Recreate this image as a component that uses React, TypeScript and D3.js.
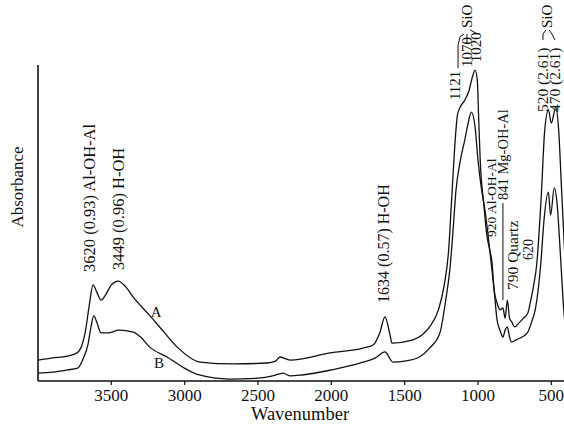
import * as d3 from 'd3';

// FTIR spectra, wavenumber (cm-1) vs absorbance (arbitrary units)
const wnA = [4000, 3900, 3800, 3734, 3700, 3679, 3650, 3625, 3600, 3570, 3540, 3500, 3454, 3400, 3352, 3236, 3147, 3052, 2895, 2670, 2438, 2380, 2350, 2310, 2281, 2009, 1784, 1715, 1670, 1634, 1600, 1586, 1443, 1380, 1330, 1270, 1230, 1200, 1180, 1160, 1140, 1121, 1090, 1060, 1040, 1020, 1005, 995, 985, 960, 940, 920, 905, 890, 870, 850, 830, 815, 800, 785, 770, 750, 720, 690, 660, 640, 620, 600, 570, 545, 520, 500, 470, 450, 430, 400];
const absA = [0.066, 0.073, 0.079, 0.089, 0.114, 0.152, 0.241, 0.304, 0.282, 0.256, 0.272, 0.304, 0.316, 0.297, 0.266, 0.206, 0.158, 0.108, 0.060, 0.054, 0.057, 0.063, 0.076, 0.070, 0.066, 0.089, 0.104, 0.114, 0.152, 0.203, 0.146, 0.120, 0.130, 0.146, 0.171, 0.225, 0.304, 0.415, 0.573, 0.731, 0.842, 0.867, 0.889, 0.921, 0.959, 0.984, 0.953, 0.826, 0.699, 0.557, 0.462, 0.415, 0.377, 0.288, 0.247, 0.225, 0.231, 0.199, 0.256, 0.199, 0.187, 0.171, 0.184, 0.199, 0.215, 0.256, 0.304, 0.367, 0.573, 0.794, 0.858, 0.816, 0.867, 0.794, 0.604, 0.320];

const wnB = [4000, 3900, 3800, 3730, 3690, 3660, 3640, 3620, 3600, 3570, 3520, 3450, 3350, 3300, 3240, 3120, 2980, 2900, 2700, 2500, 2400, 2330, 2280, 2200, 2000, 1800, 1700, 1634, 1580, 1500, 1400, 1330, 1260, 1220, 1190, 1170, 1150, 1120, 1090, 1070, 1045, 1020, 1000, 980, 950, 920, 890, 870, 850, 830, 815, 800, 785, 770, 740, 700, 660, 630, 610, 590, 570, 550, 520, 505, 480, 460, 440, 420, 400];
const absB = [0.025, 0.028, 0.035, 0.041, 0.073, 0.114, 0.168, 0.206, 0.187, 0.152, 0.152, 0.161, 0.155, 0.139, 0.108, 0.076, 0.035, 0.019, 0.006, 0.009, 0.016, 0.025, 0.016, 0.019, 0.035, 0.057, 0.073, 0.092, 0.060, 0.063, 0.076, 0.104, 0.152, 0.256, 0.361, 0.478, 0.604, 0.699, 0.763, 0.810, 0.851, 0.804, 0.699, 0.620, 0.532, 0.415, 0.288, 0.193, 0.161, 0.139, 0.161, 0.171, 0.139, 0.123, 0.130, 0.139, 0.155, 0.193, 0.225, 0.288, 0.383, 0.509, 0.598, 0.525, 0.611, 0.557, 0.415, 0.256, 0.146];

const xTicks = [3500, 3000, 2500, 2000, 1500, 1000, 500];

// band assignments: text, wavenumber of the label, absorbance at the label's foot
const noteText = ['3620 (0.93) Al-OH-Al', '3449 (0.96) H-OH', '1634 (0.57) H-OH', '1121', '1070', '1020', 'SiO', '920 Al-OH-Al', '841 Mg-OH-Al', '790 Quartz', '620', '520 (2.61)', '470 (2.61)', 'SiO'];
const noteWn = [3652, 3455, 1648, 1157, 1075, 1014, 1075, 911, 830, 761, 659, 557, 475, 530];
const noteAbs = [0.345, 0.351, 0.247, 0.889, 0.994, 1.009, 1.117, 0.456, 0.573, 0.288, 0.383, 0.851, 0.851, 1.117];
const noteSize = [16.5, 16.5, 16, 15, 15, 15, 15, 13.5, 14.5, 15.5, 14, 15.5, 15.5, 15];

// leader lines [wavenumber, absorbance]
const leaders = [
  [[830, 0.563], [830, 0.256]],
  [[1136, 0.99], [1136, 1.063], [1122, 1.09], [1095, 1.098]],
  [[1075, 1.066], [1075, 1.098]],
  [[1014, 1.101], [1054, 1.111]],
  [[557, 1.079], [557, 1.098], [536, 1.111]],
  [[475, 1.079], [496, 1.098], [516, 1.111]],
];

const seriesLabels = ['A', 'B'];
const seriesLabelWn = [3195, 3175];
const seriesLabelAbs = [0.218, 0.057];

export default function App() {
  const width = 564;
  const height = 426;
  const x = d3.scaleLinear().domain([4000, 400]).range([38, 566]);
  const y = d3.scaleLinear().domain([0, 1]).range([381, 65]);

  const line = d3.line<[number, number]>()
    .x(d => x(d[0]))
    .y(d => y(d[1]))
    .curve(d3.curveMonotoneX);
  const straight = d3.line<number[]>().x(d => x(d[0])).y(d => y(d[1]));

  const ptsA = wnA.map((w, i) => [w, absA[i]] as [number, number]);
  const ptsB = wnB.map((w, i) => [w, absB[i]] as [number, number]);

  const font = '"Liberation Serif", "DejaVu Serif", serif';

  return (
    <svg width={width} height={height} style={{ position: 'absolute', left: 0, top: 0, background: '#fff' }} fontFamily={font}>
      {/* spectra */}
      <path d={line(ptsA) || ''} fill="none" stroke="#111" strokeWidth={1.3} />
      <path d={line(ptsB) || ''} fill="none" stroke="#111" strokeWidth={1.3} />

      {/* axes */}
      <line x1={x(4000)} x2={x(4000)} y1={y(1)} y2={y(0)} stroke="#111" strokeWidth={1.6} />
      <line x1={x(4000)} x2={width} y1={y(0)} y2={y(0)} stroke="#111" strokeWidth={1.6} />
      {xTicks.map(t => (
        <g key={t} transform={`translate(${x(t)},${y(0)})`}>
          <line y1={0} y2={4} stroke="#111" strokeWidth={1.2} />
          <text y={20} textAnchor="middle" fontSize={17} fill="#111">{t}</text>
        </g>
      ))}
      <text x={300} y={420} textAnchor="middle" fontSize={18.5} fill="#111">Wavenumber</text>
      <text transform={`translate(23,187) rotate(-90)`} textAnchor="middle" fontSize={17} fill="#111">Absorbance</text>

      {/* series labels */}
      {seriesLabels.map((s, i) => (
        <text key={s} x={x(seriesLabelWn[i])} y={y(seriesLabelAbs[i])} dy="0.35em" textAnchor="middle" fontSize={15} fill="#111">{s}</text>
      ))}

      {/* band annotations */}
      {noteText.map((t, i) => (
        <text key={i} transform={`translate(${x(noteWn[i])},${y(noteAbs[i])}) rotate(-90)`} dy="0.35em" textAnchor="start" fontSize={noteSize[i]} fill="#111">{t}</text>
      ))}
      {leaders.map((l, i) => (
        <path key={i} d={straight(l) || ''} fill="none" stroke="#111" strokeWidth={1} />
      ))}
    </svg>
  );
}
